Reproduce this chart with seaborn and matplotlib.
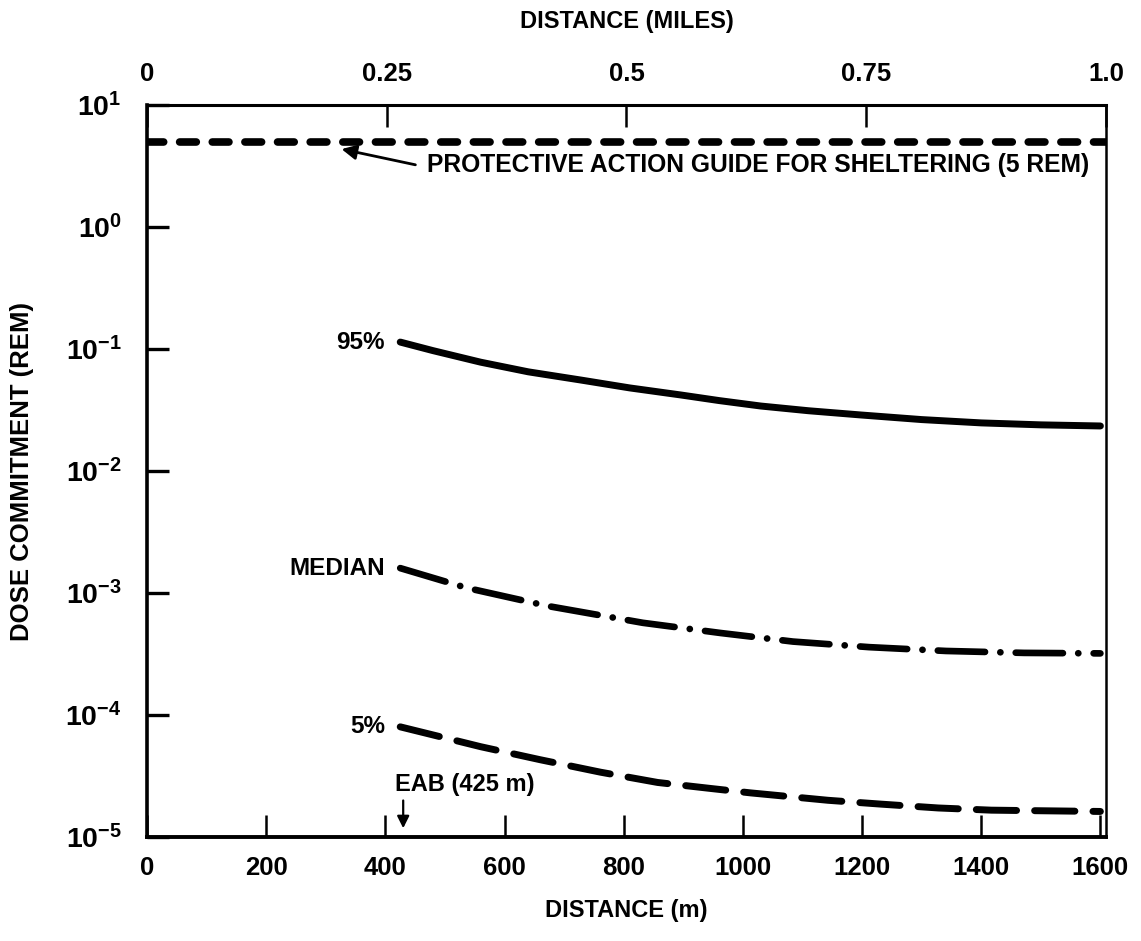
import numpy as np
import pandas as pd
import matplotlib
matplotlib.use("Agg")
import matplotlib.pyplot as plt
import seaborn as sns
from matplotlib import font_manager
from matplotlib.ticker import FixedLocator, FixedFormatter, NullLocator

# -----------------------------
# values (distance in m, dose commitment in rem)
# -----------------------------
dist_95 = [425, 480, 560, 640, 728, 810, 896, 960, 1030, 1110, 1198, 1300, 1400, 1500, 1600]
dose_95 = [0.114, 0.097, 0.078, 0.065, 0.0557, 0.048, 0.042, 0.0378, 0.0341,
           0.0312, 0.0288, 0.0264, 0.0248, 0.0239, 0.0234]

dist_med = [425, 537, 674, 832, 963, 1084, 1212, 1341, 1472, 1600]
dose_med = [1.6e-3, 1.1e-3, 7.8e-4, 5.7e-4, 4.7e-4, 4.0e-4, 3.6e-4, 3.35e-4, 3.23e-4, 3.2e-4]

dist_5 = [425, 560, 660, 761, 857, 946, 1013, 1143, 1232, 1328, 1417, 1600]
dose_5 = [8.0e-5, 5.5e-5, 4.3e-5, 3.4e-5, 2.8e-5, 2.5e-5, 2.3e-5, 2.0e-5, 1.86e-5, 1.73e-5, 1.66e-5, 1.62e-5]

pag_rem = 5.0
eab_m = 430
m_per_mile = 1609.34

x_ticks = [0, 200, 400, 600, 800, 1000, 1200, 1400, 1600]
mile_ticks = [0, 0.25, 0.5, 0.75, 1.0]
mile_labels = ["0", "0.25", "0.5", "0.75", "1.0"]
y_ticks = [1e-5, 1e-4, 1e-3, 1e-2, 1e-1, 1e0, 1e1]
y_labels = [r"$10^{-5}$", r"$10^{-4}$", r"$10^{-3}$", r"$10^{-2}$",
            r"$10^{-1}$", r"$10^{0}$", r"$10^{1}$"]

# -----------------------------
# style
# -----------------------------
sns.set_theme(style="ticks")

# narrow bold face if one is installed, else Liberation Sans
names = {f.name for f in font_manager.fontManager.ttflist}
FONT = "Liberation Sans"
for cand in ["Liberation Sans Narrow", "DejaVu Sans Condensed"]:
    if cand in names:
        FONT = cand
        break

plt.rcParams["font.family"] = [FONT, "DejaVu Sans"]
plt.rcParams["font.weight"] = "bold"
plt.rcParams["mathtext.fontset"] = "custom"
plt.rcParams["mathtext.rm"] = FONT + ":bold"
plt.rcParams["mathtext.bf"] = FONT + ":bold"
plt.rcParams["mathtext.it"] = FONT + ":bold"
plt.rcParams["mathtext.default"] = "rm"
plt.rcParams["lines.scale_dashes"] = False
for key in ["text.color", "axes.labelcolor", "xtick.color", "ytick.color",
            "axes.edgecolor"]:
    plt.rcParams[key] = "black"

fig = plt.figure(figsize=(11.41, 9.41), dpi=100)
ax = fig.add_axes([0.1288, 0.1105, 0.8405, 0.7779])

# -----------------------------
# curves
# -----------------------------
curves = [
    ("95%", dist_95, dose_95, "-", 5.0),
    ("MEDIAN", dist_med, dose_med, (0, (34, 11, 0.1, 11)), 4.8),
    ("5%", dist_5, dose_5, (0, (29, 13)), 5.0),
]

for name, xs, ys, ls, lw in curves:
    sns.lineplot(x=xs, y=ys, ax=ax, color="black", linestyle=ls, lw=lw,
                 estimator=None, sort=False,
                 dash_capstyle="round", solid_capstyle="round")
    ax.annotate(name, xy=(xs[0], ys[0]), xytext=(-11, 0),
                textcoords="offset points", ha="right", va="center",
                fontsize=17.5, fontweight="bold")

# protective action guide
ax.axhline(pag_rem, color="black", lw=5.5, linestyle=(0, (12, 11.5)),
           dash_capstyle="round")
ax.annotate("", xy=(322, 4.4), xytext=(455, 3.2),
            arrowprops=dict(arrowstyle="-|>", color="black", lw=2,
                            mutation_scale=22))
ax.text(470, 3.2, "PROTECTIVE ACTION GUIDE FOR SHELTERING (5 REM)",
        ha="left", va="center", fontsize=17.7, fontweight="bold")

# EAB marker
ax.annotate("", xy=(eab_m, 1.12e-5), xytext=(eab_m, 2.1e-5),
            arrowprops=dict(arrowstyle="-|>", color="black", lw=1.6,
                            mutation_scale=18))
ax.text(417, 2.7e-5, "EAB (425 m)", ha="left", va="center",
        fontsize=17, fontweight="bold")

# -----------------------------
# axes
# -----------------------------
ax.set_yscale("log")
ax.set_ylim(1e-5, 1e1)
ax.set_xlim(0, m_per_mile)
ax.yaxis.set_major_locator(FixedLocator(y_ticks))
ax.yaxis.set_major_formatter(FixedFormatter(y_labels))
ax.yaxis.set_minor_locator(NullLocator())
ax.set_xticks(x_ticks)
ax.set_xticklabels([str(t) for t in x_ticks])

ax.tick_params(axis="y", direction="in", length=16, width=2.4, pad=18,
               labelsize=20.5, right=False)
ax.tick_params(axis="x", direction="in", length=16, width=1.8, pad=14,
               labelsize=18.5, top=False)
for lab in ax.get_xticklabels() + ax.get_yticklabels():
    lab.set_fontweight("bold")

for side, lw in [("left", 2.6), ("bottom", 2.8), ("top", 2.2), ("right", 1.8)]:
    ax.spines[side].set_linewidth(lw)

top = ax.secondary_xaxis("top", functions=(lambda m: m / m_per_mile,
                                           lambda mi: mi * m_per_mile))
top.set_xticks(mile_ticks)
top.set_xticklabels(mile_labels)
top.tick_params(direction="in", length=16, width=1.8, pad=14, labelsize=18.5)
for lab in top.get_xticklabels():
    lab.set_fontweight("bold")
top.spines["top"].set_visible(False)
top.set_xlabel("DISTANCE (MILES)", fontsize=17, fontweight="bold", labelpad=24)

ax.set_xlabel("DISTANCE (m)", fontsize=17, fontweight="bold", labelpad=13)
ax.set_ylabel("DOSE COMMITMENT (REM)", fontsize=18.5, fontweight="bold")
ax.yaxis.set_label_coords(-0.118, 0.5)

ax.grid(False)
fig.savefig("out.png", dpi=100, facecolor="white")
